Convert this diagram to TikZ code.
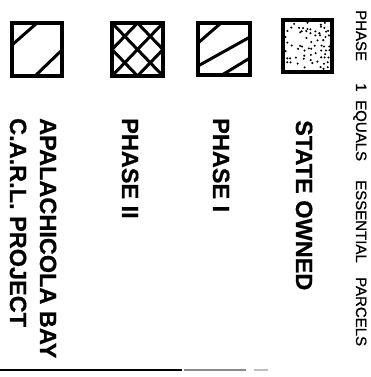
\documentclass[tikz,border=0pt]{standalone}
\usepackage{fontspec}
\setmainfont{Liberation Sans}
\newfontfamily\lblfont[FakeBold=0.6]{Liberation Sans Bold}
\newfontfamily\headfont[FakeBold=0.8]{Liberation Sans}
\begin{document}
\begin{tikzpicture}[x=1pt,y=-1pt,
  legbox/.style={line width=3.6pt},
  hatch/.style={line width=3pt},
  lbl/.style={rotate=-90, anchor=base west, inner sep=0pt, font=\lblfont\fontsize{23.5}{25}\selectfont},
  head/.style={rotate=-90, anchor=base west, inner sep=0pt, font=\headfont\fontsize{15}{17}\selectfont}]
\useasboundingbox[fill=white] (0,0) rectangle (371,377);

% box 1: Apalachicola Bay
\begin{scope}[shift={(12,23)}]
  \draw[hatch] (0,22) -- (25,0);
  \draw[hatch] (23,53) -- (50,27);
  \draw[legbox] (0,0) rectangle (50,53);
\end{scope}

% box 2: Phase II crosshatch
\begin{scope}[shift={(112,23)}]
  \draw[hatch] (0,26.5) -- (25.5,0);
  \draw[hatch] (0,53) -- (51,0);
  \draw[hatch] (25.5,53) -- (51,26.5);
  \draw[hatch] (25.5,0) -- (51,26.5);
  \draw[hatch] (0,0) -- (51,53);
  \draw[hatch] (0,26.5) -- (25.5,53);
  \draw[legbox] (0,0) rectangle (51,53);
\end{scope}

% box 3: Phase I
\begin{scope}[shift={(198,23)}]
  \draw[hatch] (0,20) -- (23,0);
  \draw[hatch] (0,43) -- (52,14);
  \draw[hatch] (24,52) -- (52,35);
  \draw[legbox] (0,0) rectangle (52,52);
\end{scope}

% box 4: State owned (stipple)
\pgfmathsetseed{12}
\foreach \i in {0,...,10}{
  \foreach \j in {0,...,10}{
    \pgfmathsetmacro\px{286+\i*4.3+rand*1.5}
    \pgfmathsetmacro\py{23.5+\j*4.4+rand*1.5}
    \pgfmathsetmacro\keep{rnd<(0.42+0.04*\i)}
    \ifdim\keep pt>0.5pt \fill (\px,\py) circle[radius=1.15pt];\fi
  }
}
\draw[legbox] (283,20) rectangle (332,72);

% labels
\node[lbl] (carl) at (10,118) {C.A.R.L. PROJECT};
\node[lbl] (apal) at (40,118) {APALACHICOLA BAY};
\node[lbl] (ph2) at (122,118) {PHASE II};
\node[lbl] (ph1) at (213,118) {PHASE I};
\node[lbl] (state) at (296,120) {STATE OWNED};

% heading
\node[head] (h1) at (356,10) {PHASE};
\node[head] (h2) at (356,83) {1};
\node[head] (h3) at (356,100) {EQUALS};
\node[head] (h4) at (356,180) {ESSENTIAL};
\node[head] (h5) at (356,277) {PARCELS};

% bottom rule
\draw[line width=2pt] (0,370) -- (182,370);
\draw[line width=1.6pt, black!45] (184,370) -- (246,370);
\draw[line width=1.2pt, black!25] (254,370) -- (268,370);
\end{tikzpicture}
\end{document}
